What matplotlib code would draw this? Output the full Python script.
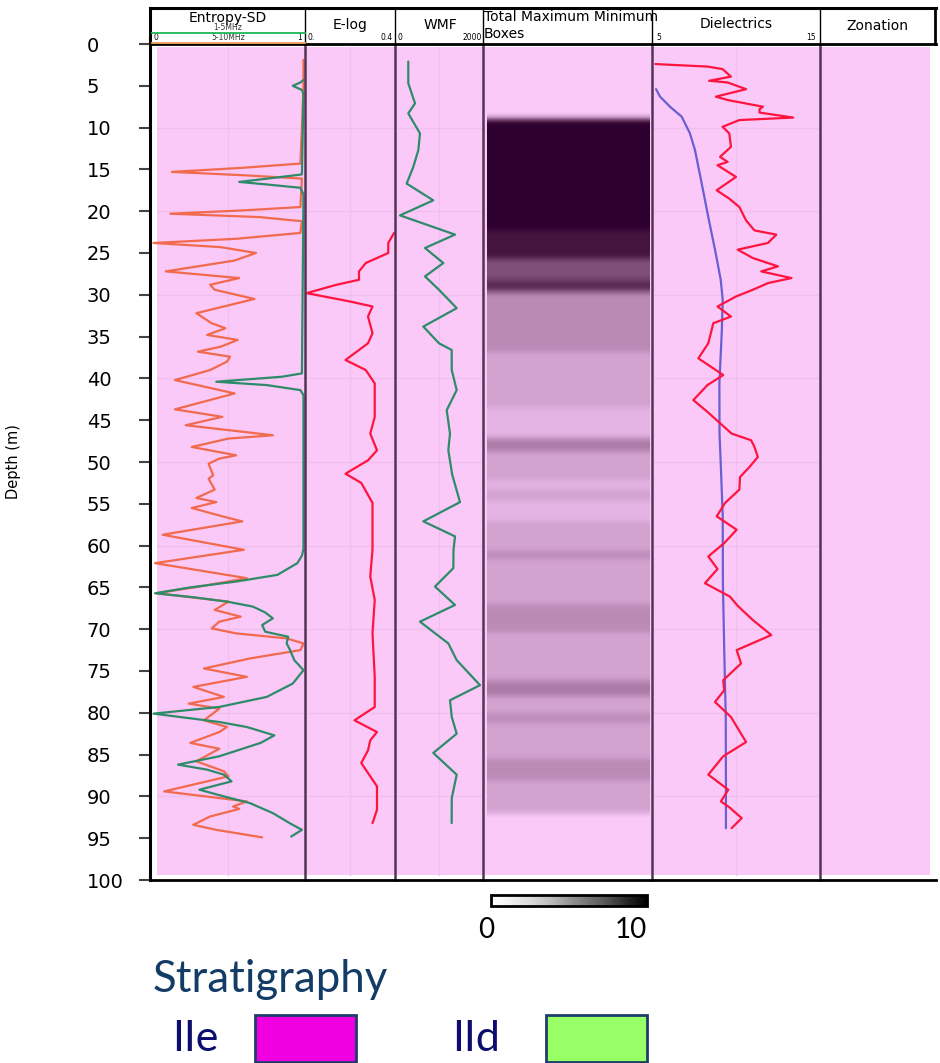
import numpy as np
import matplotlib
matplotlib.use("Agg")
import matplotlib.pyplot as plt
from matplotlib.colors import LinearSegmentedColormap, Normalize
from matplotlib.cm import ScalarMappable
from matplotlib.lines import Line2D
from matplotlib.patches import Rectangle

# ---------------- data ----------------
# Entropy-SD, 1-5 MHz (green)
ent1_depth = [4.3, 4.6, 5.0, 5.5, 6.0, 15.6, 16.0, 16.5, 16.8, 17.2, 18.0, 39.4, 39.8, 40.4, 40.8, 41.4, 42.0,
              60.4, 61.2, 62.1, 63.5, 64.3, 65.0, 65.7, 66.2, 66.7, 67.3, 68.0, 68.7, 69.5, 70.3, 70.9, 71.7,
              72.4, 73.7, 74.9, 76.5, 78.1, 79.3, 80.1, 81.1, 81.7, 82.7, 83.6, 85.2, 86.2, 86.8, 87.4, 88.2,
              89.2, 90.0, 90.8, 92.0, 93.2, 94.0, 94.8]
ent1_val = [0.99, 0.97, 0.92, 0.98, 0.99, 0.98, 0.80, 0.57, 0.75, 0.97, 0.99, 0.98, 0.85, 0.42, 0.75, 0.97, 0.99,
            0.99, 0.98, 0.95, 0.82, 0.55, 0.25, 0.02, 0.28, 0.49, 0.66, 0.74, 0.79, 0.72, 0.74, 0.89, 0.88,
            0.90, 0.93, 0.99, 0.92, 0.75, 0.44, 0.01, 0.44, 0.62, 0.80, 0.71, 0.44, 0.17, 0.36, 0.47, 0.52,
            0.31, 0.47, 0.64, 0.79, 0.90, 0.98, 0.91]
# Entropy-SD, 5-10 MHz (orange)
ent2_depth = [1.9, 5.0, 10.0, 14.3, 14.8, 15.3, 15.7, 16.1, 19.5, 19.9, 20.3, 20.7, 21.2, 22.6, 23.3, 23.8, 24.3,
              25.0, 25.9, 27.2, 28.0, 28.8, 29.4, 30.5, 32.2, 33.4, 34.0, 34.8, 35.4, 36.2, 36.8, 37.4, 38.0,
              39.0, 40.2, 41.8, 43.7, 44.6, 45.6, 46.8, 47.2, 48.2, 49.2, 49.6, 50.2, 51.6, 52.0, 53.3, 54.3,
              54.8, 55.5, 56.6, 57.1, 58.7, 60.5, 62.1, 63.9, 64.9, 65.7, 66.7, 67.7, 68.5, 69.1, 69.9, 70.5,
              71.1, 71.7, 72.5, 73.5, 74.7, 75.7, 76.9, 78.1, 78.9, 79.5, 80.9, 81.7, 82.3, 83.6, 84.3, 85.8,
              87.0, 87.6, 89.4, 90.6, 91.2, 91.5, 92.4, 93.4, 94.0, 94.9]
ent2_val = [0.99, 0.99, 0.98, 0.97, 0.60, 0.13, 0.60, 0.98, 0.97, 0.60, 0.12, 0.70, 0.98, 0.97, 0.55, 0.01, 0.45,
            0.68, 0.54, 0.09, 0.57, 0.38, 0.41, 0.67, 0.29, 0.39, 0.48, 0.36, 0.56, 0.45, 0.30, 0.51, 0.49,
            0.38, 0.15, 0.54, 0.15, 0.46, 0.22, 0.79, 0.50, 0.26, 0.55, 0.44, 0.37, 0.40, 0.37, 0.41, 0.29,
            0.42, 0.26, 0.48, 0.59, 0.07, 0.60, 0.02, 0.62, 0.31, 0.03, 0.50, 0.41, 0.58, 0.44, 0.39, 0.55,
            0.88, 0.99, 0.97, 0.64, 0.34, 0.62, 0.27, 0.47, 0.24, 0.44, 0.34, 0.49, 0.44, 0.25, 0.44, 0.29,
            0.47, 0.50, 0.08, 0.62, 0.53, 0.57, 0.38, 0.27, 0.42, 0.72]
# E-log (red)
elog_depth = [22.6, 23.8, 25.0, 26.2, 27.2, 28.2, 28.8, 29.8, 30.8, 31.4, 32.6, 34.6, 35.8, 37.8, 39.0, 40.6,
              44.6, 46.6, 48.6, 49.8, 51.4, 52.5, 54.9, 60.5, 63.7, 66.5, 70.5, 75.7, 79.3, 80.9, 82.3, 83.3,
              84.5, 86.0, 88.0, 88.8, 91.6, 93.2]
elog_val = [0.396, 0.37, 0.37, 0.27, 0.24, 0.24, 0.14, 0.007, 0.20, 0.30, 0.28, 0.30, 0.28, 0.18, 0.27, 0.31,
            0.31, 0.29, 0.32, 0.28, 0.18, 0.25, 0.30, 0.30, 0.29, 0.31, 0.30, 0.31, 0.31, 0.22, 0.32, 0.29,
            0.28, 0.25, 0.30, 0.32, 0.32, 0.30]
# WMF (green)
wmf_depth = [2.1, 4.7, 7.1, 8.3, 10.7, 12.7, 14.7, 16.7, 18.7, 20.5, 22.8, 24.4, 26.2, 27.8, 29.4, 31.6, 33.8,
             35.8, 36.6, 39.0, 41.4, 43.8, 46.6, 48.6, 51.5, 54.8, 57.1, 58.9, 60.5, 62.7, 64.9, 67.1, 69.1,
             71.7, 73.7, 76.7, 78.5, 80.5, 82.5, 84.8, 87.4, 90.2, 93.2]
wmf_val = [302, 302, 455, 302, 568, 530, 416, 265, 870, 114, 1364, 682, 1098, 682, 1000, 1402, 644,
           1000, 1288, 1290, 1402, 1175, 1250, 1212, 1300, 1477, 644, 1364, 1330, 1326, 909, 1364, 568,
           1212, 1402, 1932, 1250, 1290, 1402, 870, 1402, 1290, 1288]
# Total Maximum Minimum Boxes
box_top = [8.9, 22.2, 25.6, 28.2, 29.6, 36.8, 43.5, 47.1, 48.7, 52.2, 53.2, 54.6, 57.0, 60.6, 61.6, 67.0,
           70.3, 76.1, 78.0, 80.0, 81.2, 85.5, 88.0]
box_bottom = [22.2, 25.6, 28.2, 29.6, 36.8, 43.5, 47.1, 48.7, 52.2, 53.2, 54.6, 57.0, 60.6, 61.6, 67.0, 70.3,
              76.1, 78.0, 80.0, 81.2, 85.5, 88.0, 92.0]
box_value = [10, 9, 6.5, 8, 3.4, 2, 1, 4, 2, 1, 2, 1, 2, 3.2, 2, 3.4, 2, 4, 2, 3.2, 2, 3.4, 2]
# Dielectrics (red and blue)
diel_r_depth = [2.4, 2.7, 3.0, 3.9, 4.4, 4.6, 5.4, 6.3, 6.7, 7.5, 7.8, 8.2, 8.8, 9.1, 9.9, 10.7, 12.3, 13.5,
                14.1, 14.5, 15.9, 17.5, 18.5, 19.5, 21.1, 22.3, 22.8, 23.8, 24.6, 25.6, 26.6, 27.2, 28.0,
                28.6, 29.4, 30.2, 31.4, 32.6, 33.4, 35.8, 37.6, 39.6, 40.8, 42.6, 44.0, 45.0, 46.6, 47.4,
                48.2, 49.4, 50.6, 51.8, 53.3, 54.9, 56.5, 58.1, 59.7, 61.3, 62.8, 64.5, 66.1, 67.2, 68.9,
                70.7, 72.5, 74.1, 76.1, 77.3, 78.7, 80.5, 83.5, 85.2, 87.4, 89.2, 90.6, 91.3, 92.6, 93.8]
diel_r_val = [5.2, 8.3, 9.2, 9.7, 8.4, 9.5, 10.6, 8.8, 9.5, 11.6, 11.4, 11.4, 13.4, 10.2, 9.2, 9.6, 9.7, 9.05,
              9.5, 8.9, 10.0, 8.85, 9.6, 10.2, 10.6, 11.1, 12.4, 11.9, 10.1, 11.0, 12.5, 11.5, 13.3,
              11.9, 11.0, 10.0, 8.9, 9.7, 8.65, 8.35, 7.76, 9.24, 8.3, 7.46, 8.3, 8.85, 9.74, 10.9,
              11.1, 11.3, 10.8, 10.24, 10.2, 9.35, 8.85, 10.04, 9.3, 8.35, 8.9, 8.15, 9.64, 10.1, 11.0,
              12.1, 10.04, 10.3, 9.24, 9.3, 8.75, 9.7, 10.6, 9.24, 8.35, 9.54, 9.1, 9.6, 10.34, 9.74]
diel_b_depth = [5.4, 6.3, 7.5, 8.7, 10.7, 12.7, 16.7, 20.7, 24.6, 28.2, 30.6, 34.6, 40.6, 46.6, 50.6, 56.5,
                64.5, 72.5, 80.5, 88.5, 93.8]
diel_b_val = [5.24, 5.48, 6.07, 6.77, 7.26, 7.56, 7.96, 8.35, 8.75, 9.09, 9.21, 9.15, 9.01, 9.02, 9.1, 9.21,
              9.22, 9.3, 9.39, 9.4, 9.4]
# Zonation
zone_names = ["IIe"]
zone_top = [0.35]
zone_bottom = [99.4]
zone_colors = ["#f000e0"]
legend_names = ["IIe", "IId"]
legend_colors = ["#f000e0", "#99ff66"]

depth_ticks = list(range(0, 101, 5))
track_titles = ["Entropy-SD", "E-log", "WMF", "Total Maximum Minimum\nBoxes", "Dielectrics", "Zonation"]

# ---------------- layout ----------------
W, H = 940, 1063
fig = plt.figure(figsize=(W / 100, H / 100), dpi=100)


def fxy(x, y):
    return x / W, 1 - y / H


TOP, BOT = 44, 880
edges = [150, 305, 395, 483, 652, 820, 935]
xlims = [(-0.013, 1.0), (0, 0.4), (0, 2000), (0, 1), (5, 15), (0, 1)]
PINK_ALPHA = 0.21
GRID_C = "#f0bff0"
RED = "#ff1440"
GREEN = "#2e8b6a"
ORANGE = "#f26a4e"
BLUE = "#6a5fd2"

axes = []
for i in range(6):
    l, r = edges[i], edges[i + 1]
    x0, y0 = fxy(l, BOT)
    ax = fig.add_axes([x0, y0, (r - l) / W, (BOT - TOP) / H])
    ax.set_xlim(*xlims[i])
    ax.set_ylim(100, 0)
    for s in ax.spines.values():
        s.set_visible(False)
    ax.set_xticks([])
    ax.set_yticks([])
    ax.patch.set_alpha(0)
    xmin_frac = 0.045 if i == 0 else 0.0
    xmax_frac = 0.957 if i == 5 else 1.0
    for zt, zb, zc in zip(zone_top, zone_bottom, zone_colors):
        ax.axhspan(zt, zb, xmin=xmin_frac, xmax=xmax_frac, color=zc, alpha=PINK_ALPHA, lw=0, zorder=0)
    if i not in (3, 5):
        lo, hi = xlims[i]
        mid = {0: 0.5, 1: 0.2, 2: 1000, 4: 10}[i]
        for d in range(10, 100, 10):
            ax.axhline(d, xmin=xmin_frac, xmax=xmax_frac, color=GRID_C, lw=1, zorder=1)
        ax.axvline(mid, ymin=0.006, ymax=0.996, color=GRID_C, lw=1, zorder=1)
    axes.append(ax)

ax1, ax2, ax3, ax4, ax5, ax6 = axes
kw = dict(lw=1.6, solid_joinstyle="round", solid_capstyle="round")
ax1.plot(ent2_val, ent2_depth, color=ORANGE, zorder=3, clip_on=False, **kw)
ax1.plot(ent1_val, ent1_depth, color=GREEN, zorder=4, clip_on=False, **kw)
ax2.plot(elog_val, elog_depth, color=RED, zorder=3, **kw)
ax3.plot(wmf_val, wmf_depth, color=GREEN, zorder=3, **kw)
ax5.plot(diel_b_val, diel_b_depth, color=BLUE, zorder=3, **kw)
ax5.plot(diel_r_val, diel_r_depth, color=RED, zorder=4, **kw)

# boxes image
box_cmap = LinearSegmentedColormap.from_list(
    "boxes",
    [(0.0, "#fcc9f8"), (0.1, "#e4b4e4"), (0.2, "#d3a3d0"), (0.32, "#bf8cba"), (0.34, "#bb8ab5"),
     (0.4, "#ad7aa7"), (0.65, "#80507a"), (0.8, "#5a2a55"), (0.9, "#45143f"), (1.0, "#2e0030")])
box_cmap.set_bad((0, 0, 0, 0))
dz = 0.05
zgrid = np.arange(6.0, 95.0, dz)
col = np.zeros_like(zgrid)
for t, b, v in zip(box_top, box_bottom, box_value):
    col[(zgrid >= t) & (zgrid < b)] = v
k = np.arange(-30, 31) * dz
kern = np.exp(-0.5 * (k / 0.35) ** 2)
kern /= kern.sum()
col = np.convolve(col, kern, mode="same")
col = np.ma.masked_less(col, 0.02)
box_norm = Normalize(0, 10)
ax4.imshow(col[:, None], aspect="auto", extent=[0.024, 0.988, zgrid[-1], zgrid[0]],
           cmap=box_cmap, norm=box_norm, interpolation="nearest", zorder=2)
ax4.set_xlim(0, 1)
ax4.set_ylim(100, 0)

# depth axis
ax1.set_yticks(depth_ticks)
ax1.set_yticklabels([str(d) for d in depth_ticks], fontsize=14, ha="left")
ax1.tick_params(axis="y", length=8, width=1.5, color="#444444", pad=37.5)
fig.text(14 / W, 1 - 462 / H, "Depth (m)", rotation=90, fontsize=10.5, ha="center", va="center")


# frame lines (figure pixel coordinates)
def fline(xs, ys, **kw):
    fig.add_artist(Line2D([x / W for x in xs], [1 - y / H for y in ys], **kw))


for xe in edges[1:-1]:
    fline([xe, xe], [TOP, BOT], color="#543454", lw=1.8, zorder=10)
    fline([xe, xe], [8, TOP], color="black", lw=1.0, zorder=10)
fline([150, 150], [8, BOT], color="black", lw=2.2, zorder=11)
fline([150, 936], [BOT, BOT], color="black", lw=2.0, zorder=11)
fline([150, 936], [8, 8], color="black", lw=2.2, zorder=11)
fline([150, 936], [TOP, TOP], color="black", lw=2.0, zorder=11)
fline([935, 935], [8, TOP], color="black", lw=2.0, zorder=11)


# header
def htext(x, y, s, **kw):
    fig.text(x / W, 1 - y / H, s, **kw)


htext(228, 18, track_titles[0], fontsize=10, ha="center", va="center")
htext(228, 28, "1-5MHz", fontsize=5.5, ha="center", va="center", color="#333333")
fline([152, 305], [32.5, 32.5], color="#1db954", lw=1.3, zorder=11)
htext(153, 37.5, "0", fontsize=5.5, ha="left", va="center")
htext(228, 38, "5-10MHz", fontsize=5.5, ha="center", va="center", color="#333333")
htext(302, 37.5, "1", fontsize=5.5, ha="right", va="center")
fline([152, 305], [42.5, 42.5], color="#f5a05a", lw=1.3, zorder=11)

htext(350, 25, track_titles[1], fontsize=10, ha="center", va="center")
htext(307, 37, "0.", fontsize=5.5, ha="left", va="center")
htext(393, 37, "0.4", fontsize=5.5, ha="right", va="center")

htext(440, 25, track_titles[2], fontsize=10, ha="center", va="center")
htext(397, 37, "0", fontsize=5.5, ha="left", va="center")
htext(482, 37, "2000", fontsize=5.5, ha="right", va="center")

htext(484, 25.5, track_titles[3], fontsize=10, ha="left", va="center", linespacing=1.25)

htext(736, 24, track_titles[4], fontsize=10, ha="center", va="center")
htext(656, 37, "5", fontsize=5.5, ha="left", va="center")
htext(816, 37, "15", fontsize=5.5, ha="right", va="center")

htext(877, 26, track_titles[5], fontsize=10, ha="center", va="center")

# colorbar
cx, cy = fxy(491, 906)
cax = fig.add_axes([cx, cy, 156 / W, 11 / H])
cb = fig.colorbar(ScalarMappable(norm=box_norm, cmap="Greys"), cax=cax, orientation="horizontal")
cb.set_ticks([])
cb.outline.set_linewidth(2)
htext(486, 930, "0", fontsize=20, ha="center", va="center", family="Lato")
htext(647, 930, "10", fontsize=20, ha="right", va="center", family="Lato")

# stratigraphy legend
htext(153, 980, "Stratigraphy", fontsize=31.5, ha="left", va="center", family="Lato", color="#123c66")
leg_x_text = [172, 452]
leg_x_box = [255, 546]
for name, c, xt, xb in zip(legend_names, legend_colors, leg_x_text, leg_x_box):
    htext(xt, 1039, name, fontsize=31, ha="left", va="center", family="Lato", color="#0d0d6e")
    bx, by = fxy(xb, 1062)
    fig.add_artist(Rectangle((bx, by), 101 / W, 47 / H, transform=fig.transFigure,
                             facecolor=c, edgecolor="#1f3d6b", lw=2))

fig.savefig("out.png", dpi=100)
